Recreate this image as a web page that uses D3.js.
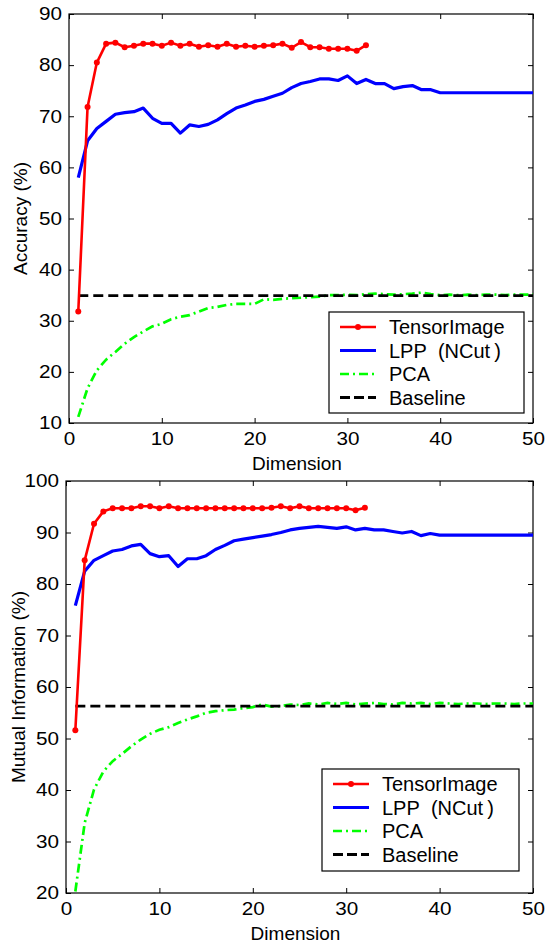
<!DOCTYPE html>
<html>
<head>
<meta charset="utf-8">
<script src="https://cdn.jsdelivr.net/npm/d3@7"></script>
<style>
  body { margin: 0; background: #fff; }
  svg text { font-family: "Liberation Sans", Arial, sans-serif; fill: #000; }
</style>
</head>
<body>
<svg id="chart" width="551" height="946"></svg>
<script>
// series names
const seriesNames = ["TensorImage", "LPP\u00a0 (NCut\u2009)", "PCA", "Baseline"];

// top panel: accuracy (%)
const accTensor = [31.8, 71.8, 80.5, 84.2, 84.4, 83.5, 83.8, 84.2, 84.2, 83.8, 84.4, 83.8, 84.2, 83.6, 83.9, 83.6,
  84.2, 83.6, 83.8, 83.6, 83.8, 83.9, 84.2, 83.4, 84.5, 83.5, 83.5, 83.2, 83.2, 83.2, 82.8, 83.9];
const accLPP = [58.0, 65.2, 67.6, 69.0, 70.4, 70.7, 70.9, 71.6, 69.6, 68.6, 68.6, 66.7, 68.3, 68.0, 68.4, 69.3,
  70.5, 71.6, 72.2, 72.9, 73.3, 73.9, 74.5, 75.6, 76.4, 76.8, 77.3, 77.3, 77.0, 77.9, 76.4, 77.2, 76.4, 76.4,
  75.4, 75.8, 76.0, 75.2, 75.2, 74.6, 74.6, 74.6, 74.6, 74.6, 74.6, 74.6, 74.6, 74.6, 74.6, 74.6];
const accPCA = [11.2, 16.8, 20.3, 22.4, 23.9, 25.5, 26.8, 27.9, 28.9, 29.4, 30.3, 30.8, 31.1, 31.8, 32.5, 32.7,
  33.1, 33.3, 33.3, 33.3, 34.2, 34.1, 34.3, 34.4, 34.5, 34.6, 34.7, 35.0, 35.0, 35.1, 35.0, 35.2, 35.3, 35.2,
  35.1, 35.2, 35.3, 35.5, 35.2, 35.0, 35.1, 35.0, 35.1, 35.0, 35.1, 35.1, 35.0, 35.1, 35.1, 35.1];
const accBaseline = 34.9;
const accTicks = [10, 20, 30, 40, 50, 60, 70, 80, 90];

// bottom panel: mutual information (%)
const miTensor = [51.6, 84.6, 91.7, 94.1, 94.7, 94.7, 94.7, 95.1, 95.1, 94.7, 95.1, 94.7, 94.7, 94.7, 94.7, 94.7,
  94.7, 94.7, 94.7, 94.7, 94.7, 94.8, 95.1, 94.7, 95.1, 94.7, 94.7, 94.7, 94.7, 94.7, 94.3, 94.8];
const miLPP = [75.8, 82.5, 84.6, 85.5, 86.4, 86.7, 87.4, 87.7, 85.9, 85.3, 85.5, 83.4, 84.9, 84.9, 85.5, 86.7,
  87.5, 88.4, 88.7, 89.0, 89.3, 89.6, 90.0, 90.5, 90.8, 91.0, 91.2, 91.0, 90.8, 91.1, 90.5, 90.8, 90.5, 90.5,
  90.2, 89.9, 90.2, 89.4, 89.8, 89.5, 89.5, 89.5, 89.5, 89.5, 89.5, 89.5, 89.5, 89.5, 89.5, 89.5];
const miPCA = [20.3, 33.6, 40.1, 43.6, 45.6, 47.0, 48.5, 49.8, 50.9, 51.7, 52.2, 53.0, 53.7, 54.3, 55.0, 55.3,
  55.5, 55.6, 55.9, 56.1, 56.6, 56.2, 56.3, 56.6, 56.5, 56.8, 56.6, 56.9, 56.7, 56.9, 56.6, 56.8, 56.9, 56.7,
  56.6, 56.9, 56.8, 56.9, 56.7, 56.9, 56.8, 56.7, 56.8, 56.8, 56.7, 56.8, 56.8, 56.7, 56.8, 56.8];
const miBaseline = 56.3;
const miTicks = [20, 30, 40, 50, 60, 70, 80, 90, 100];

const xTicks = [0, 10, 20, 30, 40, 50];
const xLabel = "Dimension";

const svg = d3.select("#chart");
// tick digits in the reference are wider than Liberation Sans
const tickFont = 18;
const tickStretch = 1.15;

const drawPanel = ({ box, yDomain, yTicks, yLabel, tensor, lpp, pca, baseline, legendBox }) => {
  const x = d3.scaleLinear().domain([0, 50]).range([box.left, box.right]);
  const y = d3.scaleLinear().domain(yDomain).range([box.bottom, box.top]);
  const g = svg.append("g");
  const toPts = (arr) => arr.map((v, i) => ({ d: i + 1, v }));
  const line = d3.line().x((p) => x(p.d)).y((p) => y(p.v));

  // axes, ticks pointing inward on all four sides
  const styleAxis = (ax) => {
    ax.select(".domain").remove();
    ax.selectAll(".tick line").attr("stroke", "#000").attr("stroke-width", 1);
    ax.selectAll(".tick text")
      .style("font-size", tickFont + "px")
      .attr("fill", "#000")
      .attr("transform", `scale(${tickStretch},1)`);
  };
  g.append("g").attr("transform", `translate(0,${box.bottom})`)
    .call(d3.axisBottom(x).tickValues(xTicks).tickSize(-5).tickPadding(9).tickFormat(d3.format("d")))
    .call(styleAxis);
  g.append("g").attr("transform", `translate(0,${box.top})`)
    .call(d3.axisTop(x).tickValues(xTicks).tickSize(-5).tickFormat(""))
    .call(styleAxis);
  g.append("g").attr("transform", `translate(${box.left},0)`)
    .call(d3.axisLeft(y).tickValues(yTicks).tickSize(-5).tickPadding(6).tickFormat(d3.format("d")))
    .call(styleAxis);
  g.append("g").attr("transform", `translate(${box.right},0)`)
    .call(d3.axisRight(y).tickValues(yTicks).tickSize(-5).tickFormat(""))
    .call(styleAxis);
  g.append("rect")
    .attr("x", box.left).attr("y", box.top)
    .attr("width", box.right - box.left).attr("height", box.bottom - box.top)
    .attr("fill", "none").attr("stroke", "#000").attr("stroke-width", 1.2);

  // series
  g.append("path").datum(toPts(pca)).attr("d", line)
    .attr("fill", "none").attr("stroke", "#00ff00").attr("stroke-width", 2.7)
    .attr("stroke-dasharray", "9,4,2,4");
  g.append("path").datum([{ d: 1, v: baseline }, { d: 50, v: baseline }]).attr("d", line)
    .attr("fill", "none").attr("stroke", "#000").attr("stroke-width", 2.8)
    .attr("stroke-dasharray", "10,5");
  g.append("path").datum(toPts(lpp)).attr("d", line)
    .attr("fill", "none").attr("stroke", "#0000ff").attr("stroke-width", 3.2)
    .attr("stroke-linejoin", "round");
  g.append("path").datum(toPts(tensor)).attr("d", line)
    .attr("fill", "none").attr("stroke", "#ff0000").attr("stroke-width", 2.6)
    .attr("stroke-linejoin", "round");
  g.append("g").selectAll("circle").data(toPts(tensor)).join("circle")
    .attr("cx", (p) => x(p.d)).attr("cy", (p) => y(p.v)).attr("r", 3)
    .attr("fill", "#ff0000");

  // labels
  g.append("text")
    .attr("x", (box.left + box.right) / 2 - 4).attr("y", box.bottom + 47)
    .attr("text-anchor", "middle").style("font-size", "19px").text(xLabel);
  g.append("text")
    .attr("transform", `translate(${box.labelX},${(box.top + box.bottom) / 2}) rotate(-90)`)
    .attr("text-anchor", "middle").style("font-size", "19px").text(yLabel);

  // legend
  const lg = g.append("g");
  lg.append("rect")
    .attr("x", legendBox.x).attr("y", legendBox.y).attr("width", legendBox.w).attr("height", legendBox.h)
    .attr("fill", "#fff").attr("stroke", "#000").attr("stroke-width", 1.2);
  const styles = [
    { color: "#ff0000", width: 2.6, dash: null, marker: true },
    { color: "#0000ff", width: 3.2, dash: null },
    { color: "#00ff00", width: 2.7, dash: "9,4,2,4" },
    { color: "#000", width: 2.8, dash: "10,4" },
  ];
  seriesNames.forEach((name, i) => {
    const cy = legendBox.y + 15 + i * 23.5;
    const s = styles[i];
    lg.append("line")
      .attr("x1", legendBox.x + 11).attr("x2", legendBox.x + 47)
      .attr("y1", cy).attr("y2", cy)
      .attr("stroke", s.color).attr("stroke-width", s.width)
      .attr("stroke-dasharray", s.dash);
    if (s.marker) {
      lg.append("circle").attr("cx", legendBox.x + 29).attr("cy", cy).attr("r", 3).attr("fill", s.color);
    }
    lg.append("text")
      .attr("x", legendBox.x + 60).attr("y", cy).attr("dy", "0.35em")
      .style("font-size", "20px").text(name);
  });
};

drawPanel({
  box: { left: 69, right: 533, top: 14, bottom: 423, labelX: 27 },
  yDomain: [10, 90], yTicks: accTicks, yLabel: "Accuracy (%)",
  tensor: accTensor, lpp: accLPP, pca: accPCA, baseline: accBaseline,
  legendBox: { x: 329, y: 312, w: 195, h: 101 },
});
drawPanel({
  box: { left: 66, right: 533, top: 481, bottom: 893, labelX: 25 },
  yDomain: [20, 100], yTicks: miTicks, yLabel: "Mutual Information (%)",
  tensor: miTensor, lpp: miLPP, pca: miPCA, baseline: miBaseline,
  legendBox: { x: 322, y: 769, w: 197, h: 102 },
});
</script>
</body>
</html>
